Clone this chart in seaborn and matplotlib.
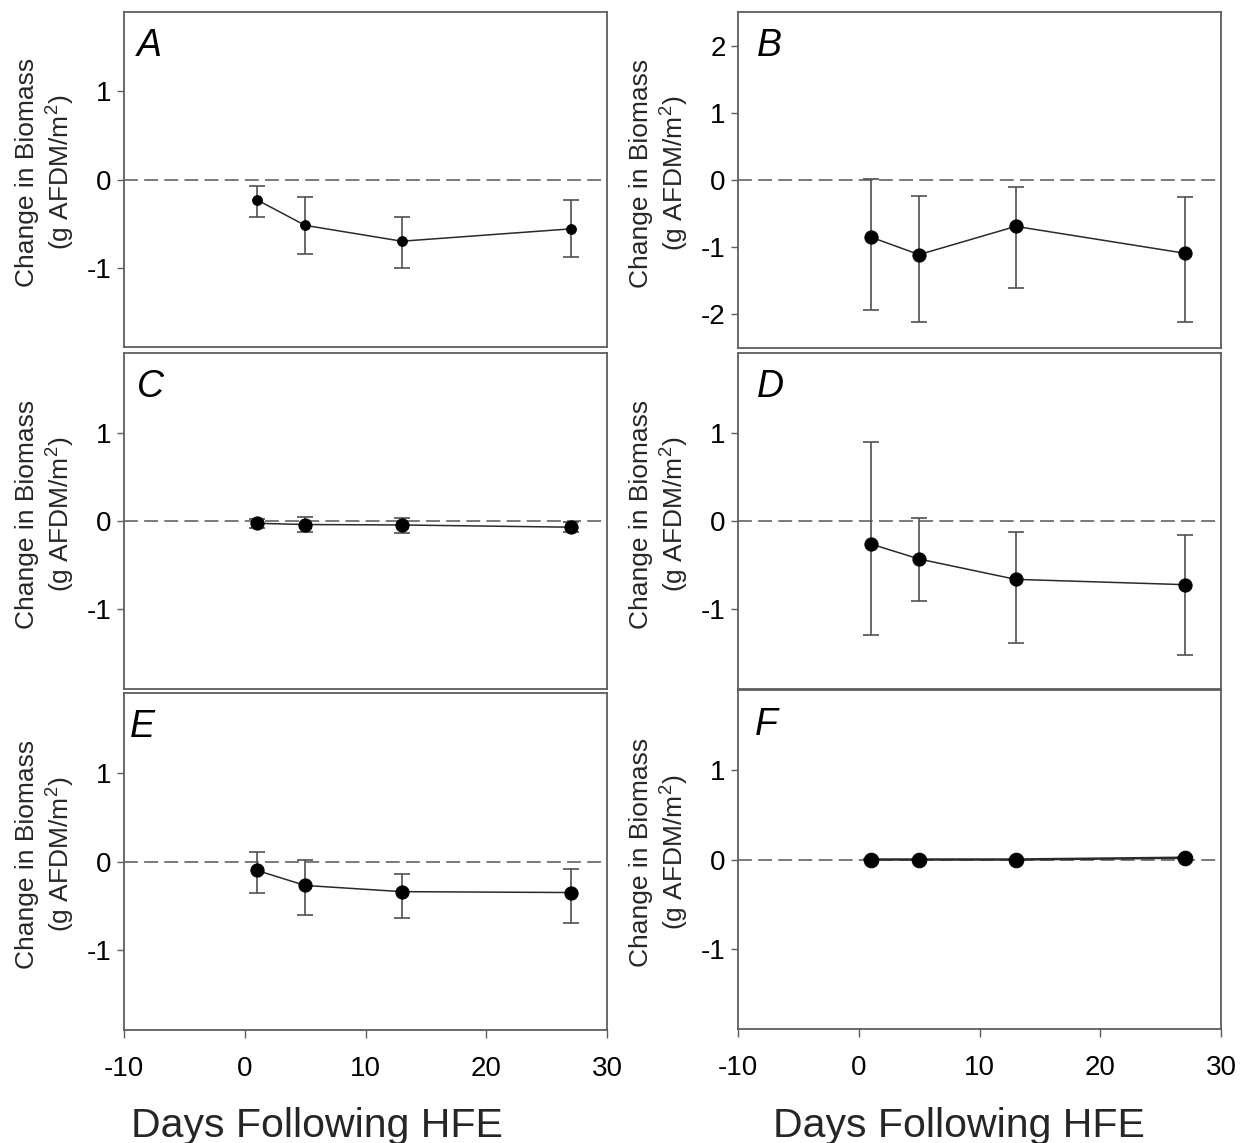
import numpy as np
import pandas as pd
import matplotlib
matplotlib.use("Agg")
import matplotlib.pyplot as plt
import seaborn as sns

# ---------------- data ----------------
days = [1, 5, 13, 27]

A_mean = [-0.23, -0.52, -0.70, -0.56]
A_hi = [-0.075, -0.195, -0.43, -0.23]
A_lo = [-0.43, -0.85, -1.00, -0.88]

B_mean = [-0.85, -1.11, -0.69, -1.09]
B_hi = [0.02, -0.24, -0.11, -0.26]
B_lo = [-1.93, -2.12, -1.61, -2.12]

C_mean = [-0.026, -0.04, -0.045, -0.07]
C_hi = [0.02, 0.04, 0.03, -0.01]
C_lo = [-0.08, -0.12, -0.14, -0.13]

D_mean = [-0.26, -0.43, -0.66, -0.72]
D_hi = [0.89, 0.03, -0.13, -0.155]
D_lo = [-1.29, -0.91, -1.38, -1.51]

E_mean = [-0.10, -0.27, -0.34, -0.35]
E_hi = [0.11, 0.015, -0.14, -0.09]
E_lo = [-0.35, -0.60, -0.64, -0.69]

F_mean = [0.0, 0.0, 0.0, 0.02]
F_hi = [0.01, 0.01, 0.01, 0.03]
F_lo = [-0.01, -0.01, -0.01, 0.01]

panel_letters = ["A", "B", "C", "D", "E", "F"]
x_ticks = [-10, 0, 10, 20, 30]
y_label = "Change in Biomass\n(g AFDM/m$^2$)"
x_label = "Days Following HFE"

# ---------------- style ----------------
sns.set_theme(style="white")
plt.rcParams["font.family"] = ["Liberation Sans", "DejaVu Sans"]
plt.rcParams["mathtext.fontset"] = "custom"
plt.rcParams["mathtext.rm"] = "Liberation Sans"
plt.rcParams["lines.scale_dashes"] = False

W, H = 1245, 1143
fig = plt.figure(figsize=(W / 100, H / 100), dpi=100)
fig.patch.set_facecolor("white")


def add_ax(l, r, t, b):
    return fig.add_axes([l / W, 1 - b / H, (r - l) / W, (b - t) / H])


# pixel boxes (left, right, top, bottom)
boxes = {
    "A": (124, 607, 12, 347),
    "C": (124, 607, 353, 689),
    "E": (124, 607, 693, 1030),
    "B": (738, 1221, 12, 348),
    "D": (738, 1221, 353, 689),
    "F": (738, 1221, 690, 1029),
}
series = {
    "A": (A_mean, A_lo, A_hi),
    "B": (B_mean, B_lo, B_hi),
    "C": (C_mean, C_lo, C_hi),
    "D": (D_mean, D_lo, D_hi),
    "E": (E_mean, E_lo, E_hi),
    "F": (F_mean, F_lo, F_hi),
}
ylims = {"A": (-1.9, 1.9), "B": (-2.5, 2.5), "C": (-1.9, 1.9),
         "D": (-1.9, 1.9), "E": (-1.9, 1.9), "F": (-1.9, 1.9)}
yticks = {"A": [-1, 0, 1], "B": [-2, -1, 0, 1, 2], "C": [-1, 0, 1],
          "D": [-1, 0, 1], "E": [-1, 0, 1], "F": [-1, 0, 1]}
msizes = {"A": 7, "B": 9.5, "C": 9.5, "D": 9.5, "E": 9.5, "F": 10.5}
letter_x = {"A": 0.027, "B": 0.039, "C": 0.027, "D": 0.039, "E": 0.012, "F": 0.035}
line_w = {"A": 1.1, "B": 1.1, "C": 1.1, "D": 1.1, "E": 1.1, "F": 1.8}

frame_col = "#5e5e5e"

for key in panel_letters:
    ax = add_ax(*boxes[key])
    mean, lo, hi = series[key]
    mean_a = np.array(mean)
    yerr = [mean_a - np.array(lo), np.array(hi) - mean_a]

    ax.axhline(0, color="#7a7a7a", lw=1.4, dashes=(10, 4.5), zorder=1)
    ax.errorbar(days, mean, yerr=yerr, fmt="none", ecolor="#505050",
                elinewidth=1.2, capsize=6, capthick=1.2, zorder=2)
    df = pd.DataFrame({"Days": days, "Change": mean})
    sns.lineplot(data=df, x="Days", y="Change", ax=ax, color="#2a2a2a",
                 lw=line_w[key], marker="o", markersize=msizes[key],
                 markerfacecolor="black", markeredgecolor="black",
                 zorder=3, errorbar=None)

    ax.set_xlim(-10, 30)
    ax.set_ylim(*ylims[key])
    ax.set_yticks(yticks[key])
    ax.set_yticklabels([str(v) for v in yticks[key]])

    for sp in ax.spines.values():
        sp.set_color(frame_col)
        sp.set_linewidth(1.3)
        sp.set_visible(True)

    ax.tick_params(axis="y", which="both", direction="out", length=5,
                   width=1.0, color=frame_col, labelsize=20, pad=4,
                   left=True, right=False, labelcolor="black")
    if key in ("E", "F"):
        ax.set_xticks(x_ticks)
        ax.set_xticklabels([str(v) for v in x_ticks])
        ax.tick_params(axis="x", which="both", direction="out", length=6,
                       width=1.0, color=frame_col, labelsize=20, pad=13,
                       bottom=True, top=False, labelcolor="black")
        ax.set_xlabel(x_label, fontsize=29.5, va="baseline")
        if key == "E":
            ax.xaxis.set_label_coords(0.40, -0.3175)
        else:
            ax.xaxis.set_label_coords(0.458, -0.3186)
    else:
        ax.set_xticks([])
        ax.set_xlabel("")

    ax.set_ylabel(y_label, fontsize=19, va="center", linespacing=1.15)
    ax.yaxis.set_label_coords(-0.163, 0.52)

    ax.text(letter_x[key], 0.868, key, transform=ax.transAxes, fontsize=27,
            style="italic", ha="left", va="baseline", color="black")

fig.savefig("out.png", dpi=100, facecolor="white")
